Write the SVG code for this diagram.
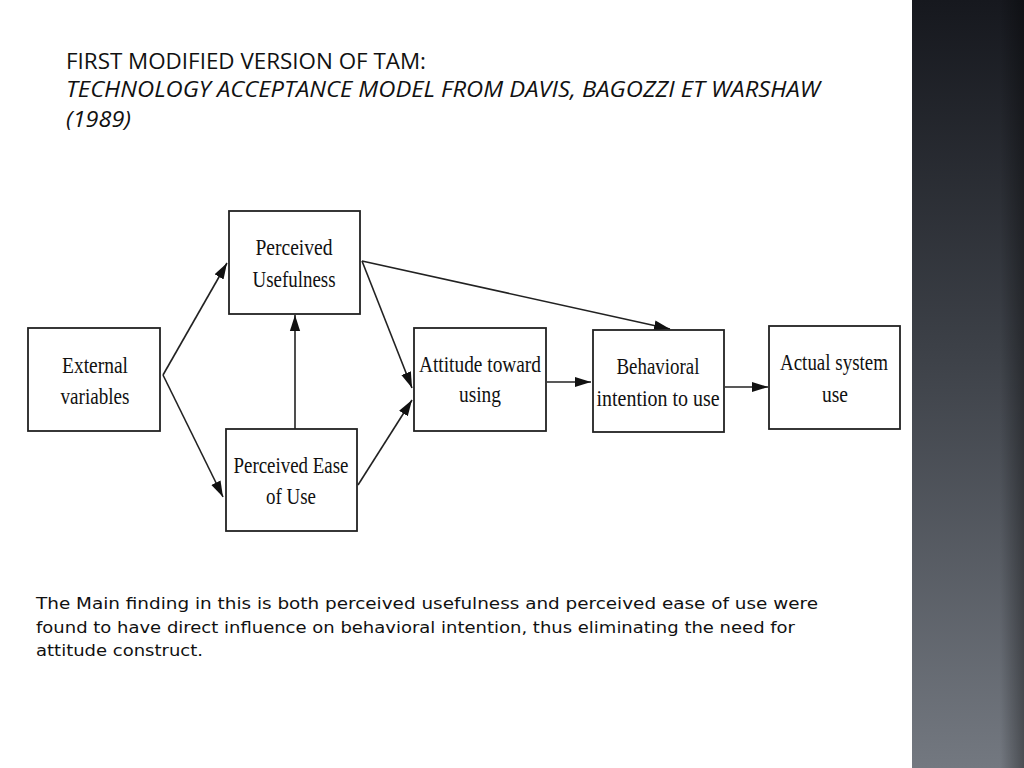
<svg xmlns="http://www.w3.org/2000/svg" width="1024" height="768" viewBox="0 0 1024 768">
<defs>
<linearGradient id="side" x1="0" y1="0" x2="0" y2="1">
<stop offset="0" stop-color="#16181e"/>
<stop offset="0.45" stop-color="#3c4047"/>
<stop offset="1" stop-color="#737880"/>
</linearGradient>
<linearGradient id="edge" x1="0" y1="0" x2="1" y2="0">
<stop offset="0" stop-color="#000" stop-opacity="0"/>
<stop offset="1" stop-color="#000" stop-opacity="0.35"/>
</linearGradient>
<marker id="ah" viewBox="0 0 10 10" refX="10" refY="5" markerWidth="16" markerHeight="16" markerUnits="userSpaceOnUse" orient="auto">
<path d="M0,1.8 L10,5 L0,8.2 Z" fill="#111"/>
</marker>
<style>
.box{fill:#fff;stroke:#222;stroke-width:1.8}
.nt{font-family:"Liberation Serif",serif;font-size:24px;fill:#111;text-anchor:middle}
.ttl{font-family:"Open Sans","Liberation Sans",sans-serif;font-size:22px;fill:#111}
.body{font-family:"DejaVu Sans","Open Sans",sans-serif;font-size:16.5px;fill:#111}
.con{stroke:#222;stroke-width:1.6;fill:none;marker-end:url(#ah)}
</style>
</defs>
<rect width="1024" height="768" fill="#fff"/>
<rect x="912" y="0" width="112" height="768" fill="url(#side)"/>
<rect x="1000" y="0" width="24" height="768" fill="url(#edge)"/>
<g id="title">
<text class="ttl" x="66" y="69" textLength="360" lengthAdjust="spacingAndGlyphs">FIRST MODIFIED VERSION OF TAM:</text>
<text class="ttl" x="66" y="97" font-style="italic" textLength="754" lengthAdjust="spacingAndGlyphs">TECHNOLOGY ACCEPTANCE MODEL FROM DAVIS, BAGOZZI ET WARSHAW</text>
<text class="ttl" x="66" y="127" font-style="italic" textLength="65" lengthAdjust="spacingAndGlyphs">(1989)</text>
</g>
<g id="connectors">
<line class="con" x1="163" y1="375" x2="227" y2="263"/>
<line class="con" x1="163" y1="375" x2="223" y2="497"/>
<line class="con" x1="295" y1="429" x2="295" y2="315"/>
<line class="con" x1="362" y1="261" x2="412" y2="388"/>
<line class="con" x1="358" y1="485" x2="412" y2="400"/>
<line class="con" x1="362" y1="261" x2="670" y2="329"/>
<line class="con" x1="547" y1="382" x2="591" y2="382"/>
<line class="con" x1="725" y1="387" x2="768" y2="387"/>
</g>
<g id="external">
<rect class="box" x="28" y="328" width="132" height="103"/>
<text class="nt" x="95" y="373" textLength="66" lengthAdjust="spacingAndGlyphs">External</text>
<text class="nt" x="95" y="404" textLength="69" lengthAdjust="spacingAndGlyphs">variables</text>
</g>
<g id="pu">
<rect class="box" x="229" y="211" width="131" height="103"/>
<text class="nt" x="294" y="255" textLength="77" lengthAdjust="spacingAndGlyphs">Perceived</text>
<text class="nt" x="294" y="287" textLength="83" lengthAdjust="spacingAndGlyphs">Usefulness</text>
</g>
<g id="peou">
<rect class="box" x="226" y="429" width="131" height="102"/>
<text class="nt" x="291" y="473" textLength="115" lengthAdjust="spacingAndGlyphs">Perceived Ease</text>
<text class="nt" x="291" y="504" textLength="50" lengthAdjust="spacingAndGlyphs">of Use</text>
</g>
<g id="attitude">
<rect class="box" x="414" y="328" width="132" height="103"/>
<text class="nt" x="480" y="372" textLength="122" lengthAdjust="spacingAndGlyphs">Attitude toward</text>
<text class="nt" x="480" y="402" textLength="42" lengthAdjust="spacingAndGlyphs">using</text>
</g>
<g id="bi">
<rect class="box" x="593" y="330" width="131" height="102"/>
<text class="nt" x="658" y="374" textLength="83" lengthAdjust="spacingAndGlyphs">Behavioral</text>
<text class="nt" x="658" y="406" textLength="123" lengthAdjust="spacingAndGlyphs">intention to use</text>
</g>
<g id="actual">
<rect class="box" x="769" y="326" width="131" height="103"/>
<text class="nt" x="834" y="370" textLength="108" lengthAdjust="spacingAndGlyphs">Actual system</text>
<text class="nt" x="835" y="402" textLength="26" lengthAdjust="spacingAndGlyphs">use</text>
</g>
<g id="note">
<text class="body" x="36" y="609" textLength="782" lengthAdjust="spacingAndGlyphs">The Main finding in this is both perceived usefulness and perceived ease of use were</text>
<text class="body" x="36" y="633" textLength="759" lengthAdjust="spacingAndGlyphs">found to have direct influence on behavioral intention, thus eliminating the need for</text>
<text class="body" x="36" y="656" textLength="167" lengthAdjust="spacingAndGlyphs">attitude construct.</text>
</g>
</svg>
